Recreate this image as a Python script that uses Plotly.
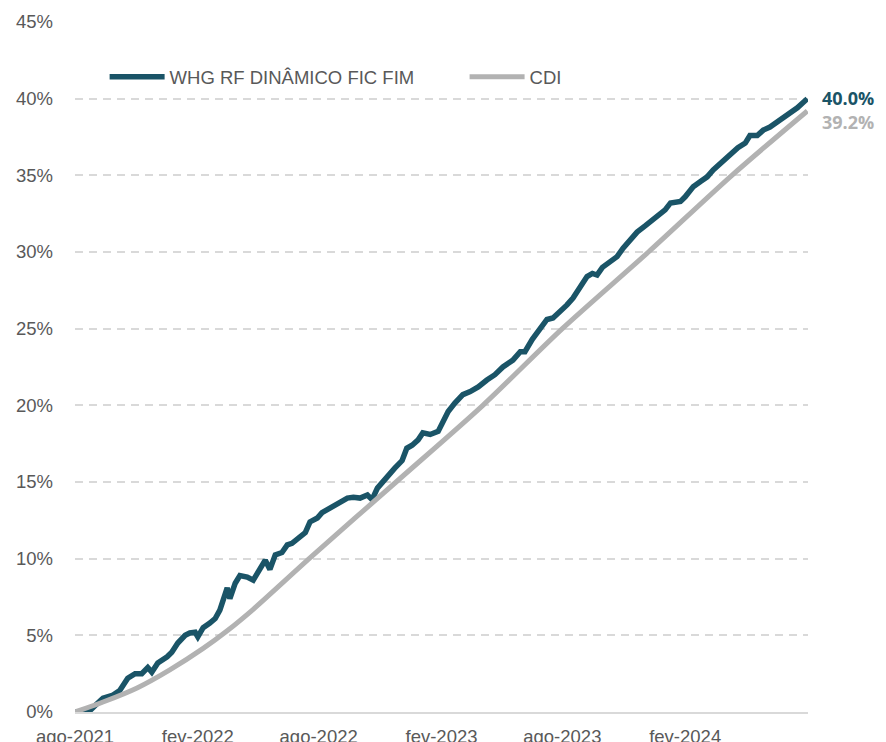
import plotly.graph_objects as go

# ---- data (cumulative return, %) ----
fund_name = "WHG RF DINÂMICO FIC FIM"
cdi_name = "CDI"

fund_dates = [
    "2021-08-01", "2021-08-20", "2021-09-01", "2021-09-12", "2021-09-27", "2021-10-07",
    "2021-10-19", "2021-10-30", "2021-11-09", "2021-11-18", "2021-11-24", "2021-12-03",
    "2021-12-17", "2021-12-24", "2022-01-02", "2022-01-13", "2022-01-20", "2022-01-28",
    "2022-02-01", "2022-02-09", "2022-02-19", "2022-02-27", "2022-03-06", "2022-03-09",
    "2022-03-17", "2022-03-21", "2022-03-29", "2022-04-05", "2022-04-16", "2022-04-25",
    "2022-05-05", "2022-05-13", "2022-05-20", "2022-05-28", "2022-06-07", "2022-06-15",
    "2022-06-22", "2022-07-04", "2022-07-12", "2022-07-19", "2022-07-30", "2022-08-06",
    "2022-08-14", "2022-08-23", "2022-09-02", "2022-09-13", "2022-09-22", "2022-10-02",
    "2022-10-13", "2022-10-20", "2022-10-28", "2022-11-06", "2022-11-16", "2022-11-23",
    "2022-12-04", "2022-12-11", "2022-12-19", "2022-12-28", "2023-01-04", "2023-01-15",
    "2023-01-27", "2023-02-03", "2023-02-11", "2023-02-21", "2023-03-05", "2023-03-16",
    "2023-03-28", "2023-04-10", "2023-04-22", "2023-05-04", "2023-05-19", "2023-05-30",
    "2023-06-06", "2023-06-17", "2023-06-26", "2023-07-09", "2023-07-18", "2023-07-29",
    "2023-08-08", "2023-08-17", "2023-08-28", "2023-09-07", "2023-09-15", "2023-09-22",
    "2023-09-30", "2023-10-09", "2023-10-22", "2023-10-31", "2023-11-11", "2023-11-21",
    "2023-12-03", "2023-12-14", "2023-12-26", "2024-01-02", "2024-01-10", "2024-01-25",
    "2024-02-01", "2024-02-13", "2024-02-24", "2024-03-05", "2024-03-14", "2024-03-27",
    "2024-04-05", "2024-04-20", "2024-05-01", "2024-05-08", "2024-05-19", "2024-05-28",
    "2024-06-07", "2024-06-22", "2024-07-04", "2024-07-18", "2024-08-02",
]
fund_values = [
    0, -0.05, 0.45, 0.9, 1.1, 1.4,
    2.2, 2.5, 2.5, 2.9, 2.6, 3.2,
    3.6, 3.9, 4.5, 5.0, 5.15, 5.2,
    4.9, 5.5, 5.8, 6.1, 6.65, 7.0,
    8.1, 7.4, 8.4, 8.9, 8.8, 8.6,
    9.3, 9.9, 9.3, 10.25, 10.4, 10.9,
    11.0, 11.4, 11.7, 12.4, 12.65, 13.0,
    13.2, 13.5, 13.7, 13.95, 14.0, 13.95,
    14.15, 13.85, 14.6, 15.1, 15.6, 15.9,
    16.4, 17.2, 17.4, 17.75, 18.2, 18.1,
    18.3, 18.9, 19.6, 20.15, 20.7, 20.9,
    21.2, 21.65, 22.0, 22.5, 22.95, 23.5,
    23.5, 24.3, 24.8, 25.6, 25.7, 26.1,
    26.55, 27.0, 27.7, 28.4, 28.6, 28.5,
    29.0, 29.3, 29.7, 30.25, 30.8, 31.3,
    31.7, 32.1, 32.5, 32.75, 33.2, 33.3,
    33.6, 34.25, 34.6, 34.9, 35.35, 35.9,
    36.2, 36.8, 37.1, 37.6, 37.6, 37.95,
    38.15, 38.6, 38.9, 39.4, 40.0,
]
assert len(fund_dates) == len(fund_values)

cdi_dates = [
    "2021-08-01", "2021-09-12", "2021-11-02", "2021-12-21", "2022-02-09", "2022-03-17",
    "2022-04-25", "2022-07-19", "2022-11-25", "2023-04-04", "2023-08-01", "2023-12-08",
    "2024-04-11", "2024-08-02",
]
cdi_values = [
    0, 0.65, 1.57, 2.75, 4.15, 5.3,
    6.7, 10.05, 15.0, 20.0, 25.0, 30.0,
    35.0, 39.2,
]
assert len(cdi_dates) == len(cdi_values)

x_tick_dates = ["2021-08-01", "2022-02-01", "2022-08-01", "2023-02-01", "2023-08-01", "2024-02-01"]
x_tick_labels = ["ago-2021", "fev-2022", "ago-2022", "fev-2023", "ago-2023", "fev-2024"]
y_tick_values = [0, 5, 10, 15, 20, 25, 30, 35, 40, 45]
y_tick_labels = [f"{v}%" for v in y_tick_values]

# ---- styling ----
TEAL = "#1a5467"
GRAY = "#b2b2b2"
TEXT = "#595959"
GRID = "#d9d9d9"
FONT = "Liberation Sans, Arial, sans-serif"

fig = go.Figure()
fig.add_trace(go.Scatter(
    x=fund_dates, y=fund_values, name=fund_name, mode="lines",
    line=dict(color=TEAL, width=5.5), legend="legend",
))
fig.add_trace(go.Scatter(
    x=cdi_dates, y=cdi_values, name=cdi_name, mode="lines",
    line=dict(color=GRAY, width=5, shape="spline", smoothing=0.8), legend="legend2",
))

fig.add_annotation(
    xref="paper", x=1.017, xanchor="left", yref="y", y=fund_values[-1], yshift=1,
    text=f"{fund_values[-1]:.1f}%", showarrow=False,
    font=dict(family="Open Sans, sans-serif", size=18, color=TEAL, weight=700),
)
fig.add_annotation(
    xref="paper", x=1.017, xanchor="left", yref="y", y=cdi_values[-1], yshift=-11,
    text=f"{cdi_values[-1]:.1f}%", showarrow=False,
    font=dict(family="Open Sans, sans-serif", size=18, color=GRAY, weight=700),
)

legend_common = dict(
    orientation="h", xanchor="left", y=0.92, yanchor="middle",
    font=dict(family=FONT, size=18.5, color=TEXT),
    itemwidth=55, bgcolor="rgba(0,0,0,0)",
)

fig.update_layout(
    width=878, height=734,
    margin=dict(l=67, r=78, t=14, b=30, autoexpand=False),
    paper_bgcolor="white", plot_bgcolor="white",
    font=dict(family=FONT, size=18.5, color=TEXT),
    showlegend=True,
    legend=dict(x=0.0404, **legend_common),
    legend2=dict(x=0.5315, **legend_common),
    xaxis=dict(
        type="date", range=["2021-08-01", "2024-08-03"],
        tickmode="array", tickvals=x_tick_dates, ticktext=x_tick_labels,
        showgrid=False, zeroline=False, automargin=False,
        showline=True, linecolor=GRID, linewidth=2,
        ticks="", ticklabelstandoff=7,
        tickfont=dict(family=FONT, size=18.5, color=TEXT),
    ),
    yaxis=dict(
        range=[0, 45], tickmode="array", tickvals=y_tick_values, ticktext=y_tick_labels,
        showgrid=True, gridcolor=GRID, gridwidth=1.5, griddash="8px,6px",
        zeroline=False, showline=False, ticks="", ticklabelstandoff=21, automargin=False,
        tickfont=dict(family=FONT, size=18.5, color=TEXT),
    ),
)

fig.write_html("out.html")
